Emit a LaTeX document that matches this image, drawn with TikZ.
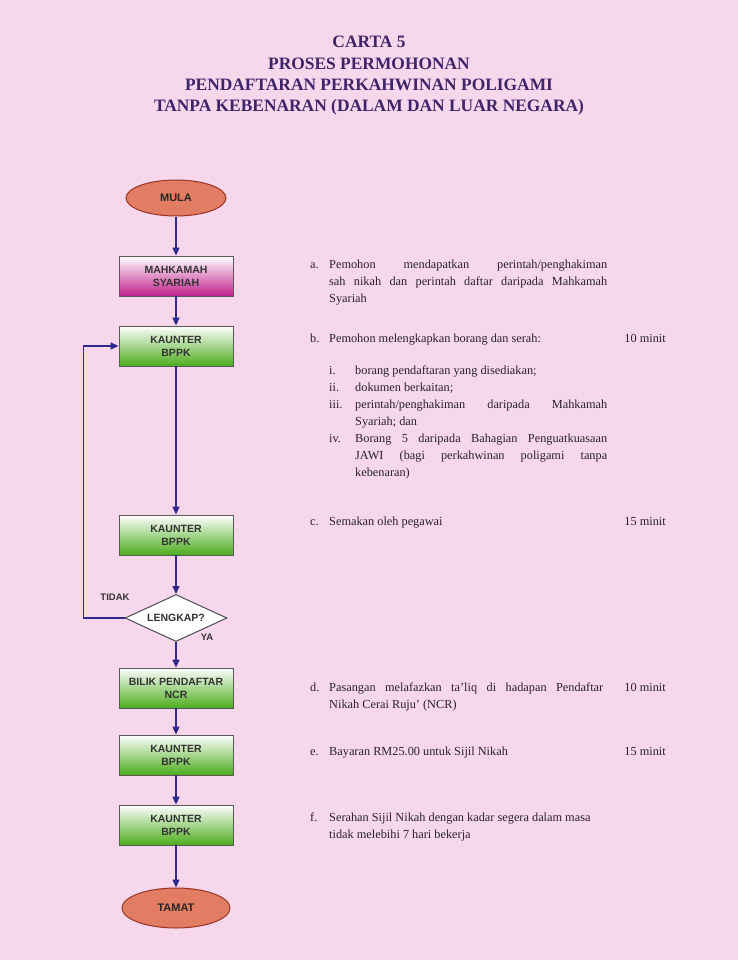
\documentclass[tikz,border=0pt]{standalone}
\usepackage{fontspec}
\setmainfont{Liberation Serif}
\newfontfamily\boxfont{Liberation Sans}
\usetikzlibrary{shapes.geometric,arrows.meta}
\definecolor{bgpink}{RGB}{247,215,236}
\definecolor{navy}{RGB}{48,40,140}
\definecolor{tajukcol}{RGB}{62,36,104}
\definecolor{salmon}{RGB}{226,124,98}
\definecolor{merah}{RGB}{150,52,40}
\definecolor{hijau}{RGB}{76,172,28}
\definecolor{ungu}{RGB}{192,32,140}
\definecolor{hitam}{RGB}{40,34,40}
\newcommand{\jline}[2]{\makebox[#1][s]{#2}}
\tikzset{
  kotak/.style={draw=gray!70!black, line width=0.8pt, minimum width=114pt,
    minimum height=40pt, inner sep=0pt, align=center, top color=white,
    bottom color=hijau, text=black!80,
    font=\boxfont\bfseries\fontsize{10.5}{13}\selectfont},
  hujung/.style={ellipse, draw=merah, line width=1pt, fill=salmon,
    minimum width=100pt, minimum height=36pt, inner sep=0pt, text=black!85,
    font=\boxfont\bfseries\fontsize{11}{13}\selectfont},
  semak/.style={diamond, aspect=2.2, draw=gray!60!black, fill=white,
    line width=1pt, minimum width=102pt, minimum height=47pt, inner sep=0pt,
    text=black!80, font=\boxfont\bfseries\fontsize{10.5}{13}\selectfont},
  cabang/.style={inner sep=0pt, text=black!80,
    font=\boxfont\bfseries\fontsize{9.5}{11}\selectfont},
  arr/.style={draw=navy, line width=1.4pt, -{Triangle[length=8pt,width=7pt]}},
  perkara/.style={inner sep=0pt, anchor=base west, text=hitam,
    font=\fontsize{12.3}{17}\selectfont}
}
\begin{document}
\begin{tikzpicture}[x=1pt,y=-1pt]
\fill[bgpink] (0,0) rectangle (738,960);
\useasboundingbox (0,0) rectangle (738,960);
% tajuk
\node (tajuk) [anchor=north, align=center, inner sep=0pt, text=tajukcol,
  font=\bfseries\fontsize{17.4}{21.3}\selectfont] at (369,36)
  {CARTA 5\\PROSES PERMOHONAN\\PENDAFTARAN PERKAHWINAN POLIGAMI\\
   TANPA KEBENARAN (DALAM DAN LUAR NEGARA)};
% carta alir
\node (mula) [hujung] at (176,198) {MULA};
\node (mahkamah) [kotak, bottom color=ungu] at (176,276) {MAHKAMAH\\SYARIAH};
\node (kaunterA) [kotak] at (176,346) {KAUNTER\\BPPK};
\node (kaunterB) [kotak] at (176,535) {KAUNTER\\BPPK};
\node (lengkap) [semak] at (176,618) {LENGKAP?};
\node (bilik) [kotak] at (176,688) {BILIK PENDAFTAR\\NCR};
\node (kaunterC) [kotak] at (176,755) {KAUNTER\\BPPK};
\node (kaunterD) [kotak] at (176,825) {KAUNTER\\BPPK};
\node (tamat) [hujung, minimum width=108pt, minimum height=40pt] at (176,908) {TAMAT};
\node (tidak) [cabang] at (115,597) {TIDAK};
\node (ya) [cabang] at (207,637) {YA};
\draw[arr] (mula) -- (mahkamah);
\draw[arr] (mahkamah) -- (kaunterA);
\draw[arr] (kaunterA) -- (kaunterB);
\draw[arr] (kaunterB) -- (lengkap);
\draw[arr] (lengkap) -- (bilik);
\draw[arr] (bilik) -- (kaunterC);
\draw[arr] (kaunterC) -- (kaunterD);
\draw[arr] (kaunterD) -- (tamat);
\draw[arr] (lengkap.west) -- ++(-41,0) |- (kaunterA.west);
% langkah
\node (ta) [perkara] at (310,268) {a.};
\node (a) [perkara] at (329,268) {\parbox[t]{278pt}{%
  \jline{278pt}{Pemohon mendapatkan perintah/penghakiman}\\
  \jline{278pt}{sah nikah dan perintah daftar daripada Mahkamah}\\
  Syariah}};
\node (tb) [perkara] at (310,342) {b.};
\node (b) [perkara] at (329,342) {Pemohon melengkapkan borang dan serah:};
\node (mb) [perkara, anchor=base east] at (666,342) {10 minit};
\node (ti) [perkara] at (329,374) {i.};
\node (bi) [perkara] at (355,374) {borang pendaftaran yang disediakan;};
\node (tii) [perkara] at (329,391) {ii.};
\node (bii) [perkara] at (355,391) {dokumen berkaitan;};
\node (tiii) [perkara] at (329,408) {iii.};
\node (biii) [perkara] at (355,408) {\parbox[t]{252pt}{%
  \jline{252pt}{perintah/penghakiman daripada Mahkamah}\\
  Syariah; dan}};
\node (tiv) [perkara] at (329,442) {iv.};
\node (biv) [perkara] at (355,442) {\parbox[t]{252pt}{%
  \jline{252pt}{Borang 5 daripada Bahagian Penguatkuasaan}\\
  \jline{252pt}{JAWI (bagi perkahwinan poligami tanpa}\\
  kebenaran)}};
\node (tc) [perkara] at (310,525) {c.};
\node (c) [perkara] at (329,525) {Semakan oleh pegawai};
\node (mc) [perkara, anchor=base east] at (666,525) {15 minit};
\node (td) [perkara] at (310,691) {d.};
\node (d) [perkara] at (329,691) {\parbox[t]{274pt}{%
  \jline{274pt}{Pasangan melafazkan ta'liq di hadapan Pendaftar}\\
  Nikah Cerai Ruju' (NCR)}};
\node (md) [perkara, anchor=base east] at (666,691) {10 minit};
\node (te) [perkara] at (310,755) {e.};
\node (e) [perkara] at (329,755) {Bayaran RM25.00 untuk Sijil Nikah};
\node (me) [perkara, anchor=base east] at (666,755) {15 minit};
\node (tf) [perkara] at (310,821) {f.};
\node (f) [perkara] at (329,821) {\parbox[t]{290pt}{%
  Serahan Sijil Nikah dengan kadar segera dalam masa\\
  tidak melebihi 7 hari bekerja}};
\end{tikzpicture}
\end{document}
